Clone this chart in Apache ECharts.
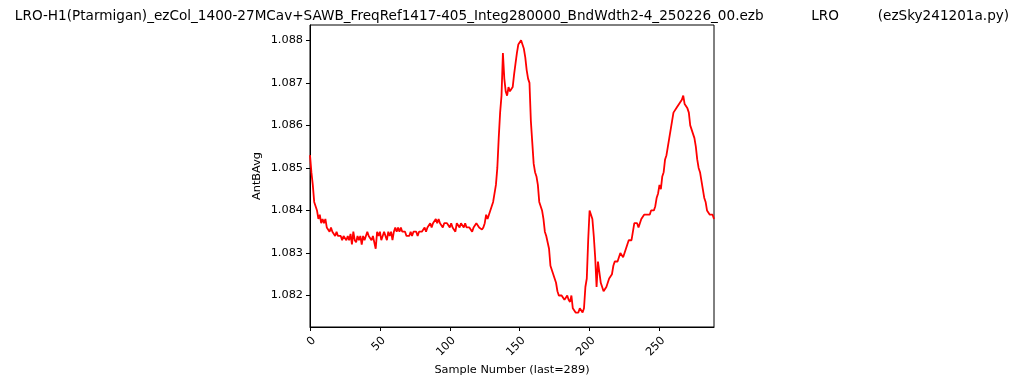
<!DOCTYPE html>
<html>
<head>
<meta charset="utf-8">
<script src="https://cdn.jsdelivr.net/npm/echarts@6/dist/echarts.min.js"></script>
<style>
html,body{margin:0;padding:0;background:#fff;}
#chart{width:1024px;height:383px;}
</style>
</head>
<body>
<div id="chart"></div>
<script>
const titleText = "LRO-H1(Ptarmigan)_ezCol_1400-27MCav+SAWB_FreqRef1417-405_Integ280000_BndWdth2-4_250226_00.ezb           LRO         (ezSky241201a.py)";
const xLabel = "Sample Number (last=289)";
const yLabel = "AntBAvg";
const yTicks = [1.082, 1.083, 1.084, 1.085, 1.086, 1.087, 1.088];
const xTicks = [0, 50, 100, 150, 200, 250];
const antBAvg = [
  1.0853, 1.0849, 1.0846, 1.0842, 1.0842, 1.0840, 1.0838, 1.0839, 1.0837, 1.0838,
  1.0837, 1.0838, 1.0836, 1.0836, 1.0835, 1.0836, 1.0835, 1.0835, 1.0834, 1.0835,
  1.0834, 1.0834, 1.0834, 1.0833, 1.0834, 1.0834, 1.0833, 1.0834, 1.0833, 1.08345,
  1.0832, 1.0835, 1.0833, 1.08325, 1.0834, 1.0833, 1.0834, 1.0832, 1.0834, 1.0833,
  1.0834, 1.0835, 1.0834, 1.0834, 1.0833, 1.0834, 1.0834, 1.0831, 1.0835, 1.0834,
  1.0835, 1.0833, 1.0834, 1.0835, 1.0834, 1.0833, 1.0835, 1.0834, 1.0835, 1.0833,
  1.0835, 1.0836, 1.0835, 1.0836, 1.0835, 1.0836, 1.0835, 1.0835, 1.0835, 1.0834,
  1.0834, 1.0834, 1.0835, 1.0834, 1.0835, 1.0835, 1.0835, 1.0834, 1.0835, 1.0835,
  1.0835, 1.0835, 1.0836, 1.0835, 1.0836, 1.0836, 1.0837, 1.0836, 1.0837, 1.0837,
  1.0838, 1.0837, 1.0838, 1.0837, 1.0837, 1.0836, 1.0837, 1.0837, 1.0837, 1.0837,
  1.0836, 1.0837, 1.0836, 1.0836, 1.0835, 1.0837, 1.0837, 1.0836, 1.0837, 1.0837,
  1.0836, 1.0837, 1.0836, 1.0836, 1.0836, 1.0836, 1.0835, 1.0836, 1.0836, 1.0837,
  1.0837, 1.0836, 1.0836, 1.08355, 1.0836, 1.0837, 1.0839, 1.0838, 1.0839, 1.0840,
  1.0841, 1.0842, 1.0842, 1.0846, 1.0850, 1.0857, 1.0863, 1.0867, 1.0877, 1.0871,
  1.0868, 1.0867, 1.0869, 1.0868, 1.0868, 1.0869, 1.0872, 1.08745, 1.0877, 1.0879,
  1.0879, 1.0880, 1.0879, 1.0878, 1.0876, 1.0873, 1.0871, 1.0870, 1.0861, 1.0856,
  1.0851, 1.0849, 1.0848, 1.0846, 1.0842, 1.0842, 1.0840, 1.0838, 1.0835, 1.0834,
  1.0834, 1.0831, 1.0827, 1.0826, 1.0825, 1.0824, 1.0823, 1.0821, 1.0820, 1.0820,
  1.0820, 1.0820, 1.0819, 1.08195, 1.0820, 1.0819, 1.08185, 1.0820, 1.0817, 1.0817,
  1.0816, 1.0816, 1.0816, 1.0817, 1.0817, 1.0816, 1.0817, 1.0822, 1.0824, 1.0833,
  1.0840, 1.0840, 1.0838, 1.0834, 1.0829, 1.0822, 1.0828, 1.0828, 1.0823, 1.0822,
  1.0821, 1.0821, 1.0822, 1.0823, 1.0824, 1.0824, 1.0825, 1.0827, 1.0828, 1.0828,
  1.0828, 1.0828, 1.0830, 1.0830, 1.0829, 1.0830, 1.0830, 1.0832, 1.0833, 1.0833,
  1.0833, 1.0835, 1.0837, 1.0837, 1.0837, 1.0836, 1.0837, 1.0838, 1.0838, 1.0839,
  1.0839, 1.0839, 1.0839, 1.0839, 1.0840, 1.0840, 1.0840, 1.0841, 1.0843, 1.0844,
  1.0846, 1.0845, 1.0848, 1.0849, 1.0852, 1.0853, 1.0855, 1.0857, 1.0859, 1.0861,
  1.0863, 1.0863, 1.0864, 1.0864, 1.0865, 1.0865, 1.0866, 1.0867, 1.0865, 1.0865,
  1.0864, 1.0863, 1.0860, 1.0860, 1.0858, 1.0857, 1.0855, 1.0852, 1.0850, 1.0849,
  1.0847, 1.0845, 1.0843, 1.0842, 1.0840, 1.0840, 1.0839, 1.0839, 1.0839, 1.0838
];

const seriesData = antBAvg.map((v, i) => [i, v]);
const font = "DejaVu Sans";

const chart = echarts.init(document.getElementById('chart'), null, {renderer: 'canvas'});
chart.setOption({
  animation: false,
  backgroundColor: '#ffffff',
  title: {
    text: titleText,
    left: 'center',
    top: 4,
    textStyle: {fontFamily: font, fontSize: 13.6, fontWeight: 'normal', color: '#000'}
  },
  grid: {left: 310, right: 310, top: 25, bottom: 56, show: true, borderColor: '#000', borderWidth: 1, backgroundColor: 'transparent'},
  xAxis: {
    type: 'value',
    min: 0,
    max: antBAvg.length - 1,
    interval: 50,
    name: xLabel,
    nameLocation: 'middle',
    nameGap: 35,
    nameTextStyle: {fontFamily: font, fontSize: 11.3, color: '#000'},
    axisLine: {show: true, onZero: false, lineStyle: {color: '#000', width: 1}},
    axisTick: {show: true, length: 4, lineStyle: {color: '#000'}, customValues: xTicks},
    axisLabel: {
      customValues: xTicks,
      rotate: 45, align: 'right', verticalAlign: 'top', margin: 8,
      fontFamily: font, fontSize: 11.3, color: '#000'
    },
    splitLine: {show: false}
  },
  yAxis: {
    type: 'value',
    min: 1.08126,
    max: 1.08836,
    name: yLabel,
    nameLocation: 'middle',
    nameGap: 47,
    nameRotate: 90,
    nameTextStyle: {fontFamily: font, fontSize: 11.3, color: '#000'},
    axisLine: {show: true, onZero: false, lineStyle: {color: '#000', width: 1}},
    axisTick: {show: true, length: 4, lineStyle: {color: '#000'}, customValues: yTicks},
    axisLabel: {
      customValues: yTicks,
      margin: 7,
      fontFamily: font, fontSize: 11.3, color: '#000',
      formatter: v => v.toFixed(3)
    },
    splitLine: {show: false}
  },
  series: [{
    type: 'line',
    data: seriesData,
    showSymbol: false,
    symbol: 'none',
    lineStyle: {color: '#ff0000', width: 1.8},
    itemStyle: {color: '#ff0000'},
    clip: true
  }]
});
</script>
</body>
</html>
